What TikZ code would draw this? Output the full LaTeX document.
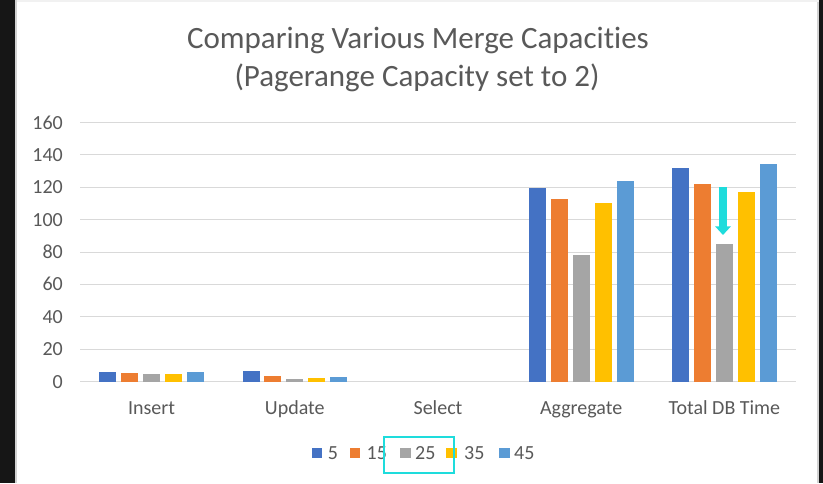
\documentclass[tikz,border=0pt]{standalone}
\usepackage{fontspec}
\setmainfont{Carlito}[Ligatures=NoCommon]
\usetikzlibrary{arrows.meta}

\definecolor{txtgrey}{HTML}{595959}
\definecolor{gridgrey}{HTML}{D9D9D9}
\definecolor{sA}{HTML}{4472C4}
\definecolor{sB}{HTML}{ED7D31}
\definecolor{sC}{HTML}{A5A5A5}
\definecolor{sD}{HTML}{FFC000}
\definecolor{sE}{HTML}{5B9BD5}
\definecolor{hilite}{HTML}{1EDCDC}
\definecolor{frame}{HTML}{161616}

\tikzset{
  ticklbl/.style={anchor=base east, inner sep=0pt, text=txtgrey, font=\fontsize{20}{20}\selectfont},
  catlbl/.style={anchor=base, inner sep=0pt, text=txtgrey, font=\fontsize{20}{20}\selectfont},
  leglbl/.style={anchor=base west, inner sep=0pt, text=txtgrey, font=\fontsize{20}{20}\selectfont},
  titlelbl/.style={anchor=base, inner sep=0pt, text=txtgrey, font=\fontsize{31}{31}\selectfont},
  gridline/.style={draw=gridgrey, line width=1pt},
}

% value -> vertical position
\newcommand{\yof}[1]{101.4+1.619*(#1)}
% one category of five bars: #1 = category index, #2..#6 = values
\newcommand{\bargroup}[6]{%
  \foreach \v [count=\i from 0] in {#2,#3,#4,#5,#6}{%
    \pgfmathsetmacro{\cx}{80+143.2*(#1+0.5)+(\i-2)*21.9}%
    \ifcase\i \def\bc{sA}\or \def\bc{sB}\or \def\bc{sC}\or \def\bc{sD}\or \def\bc{sE}\fi
    \fill[\bc] ({\cx-8.5},101.4) rectangle ({\cx+8.5},{\yof{\v}});
  }%
}

\begin{document}
\begin{tikzpicture}[x=1pt,y=1pt]
\useasboundingbox (0,0) rectangle (823,483);

% surrounding frame
\fill[frame] (0,0) rectangle (823,483);
\fill[white] (15,0) rectangle (819,481);
\fill[gridgrey!85!black!20!white] (15,480.5) rectangle (819,483);
\fill[gray!35] (15,0) rectangle (16.6,483);
\fill[gray!35] (816.5,0) rectangle (818.5,481);

% title (kern keeps the t and i apart)
\node[titlelbl] (title1) at (418,{483-48.3}) {Comparing Various Merge Capacit\kern0pt ies};
\node[titlelbl] (title2) at (417,{483-86.7}) {(Pagerange Capacity set to 2)};

% gridlines and value axis labels
\foreach \g in {0,20,...,160}{
  \draw[gridline] (80,{\yof{\g}}) -- (796,{\yof{\g}});
  \node[ticklbl] (tick\g) at (63,{\yof{\g}-6.5}) {\g};
}

% bars
\bargroup{0}{6}{5.2}{4.5}{4.5}{6}
\bargroup{1}{6.5}{3.5}{1.4}{2}{2.7}
\bargroup{3}{119.5}{113}{78}{110.3}{124.2}
\bargroup{4}{132}{122.3}{85}{117}{134.2}

% category labels
\node[catlbl] (catInsert) at (151.6,68.7) {Insert};
\node[catlbl] (catUpdate) at (294.8,68.7) {Update};
\node[catlbl] (catSelect) at (438,68.7) {Select};
\node[catlbl] (catAgg) at (581.2,68.7) {Aggregate};
\node[catlbl] (catTotal) at (724.4,68.7) {Total DB Time};

% highlight arrow above the reduced bar
\coordinate (arrTop) at (723,{483-187.3});
\coordinate (arrTip) at (723,{483-235});
\draw[hilite, line width=7.3pt, -{Triangle[width=15pt,length=8.5pt]}] (arrTop) -- (arrTip);

% legend
\fill[sA] (311.7,25) rectangle (321.7,35);
\node[leglbl] (leg5) at (327.7,23.6) {5};
\fill[sB] (350,25) rectangle (360,35);
\node[leglbl] (leg15) at (366.5,23.6) {15};
\fill[sC] (400,25) rectangle (410.5,35);
\node[leglbl] (leg25) at (415,23.6) {25};
\fill[sD] (446,25) rectangle (456.5,35);
\node[leglbl] (leg35) at (464,23.6) {35};
\fill[sE] (499,25) rectangle (509.5,35);
\node[leglbl] (leg45) at (514,23.6) {45};

% highlight box round one legend entry
\draw[hilite, line width=2pt] (383.7,10.3) rectangle (453.7,46.3);
\end{tikzpicture}
\end{document}
